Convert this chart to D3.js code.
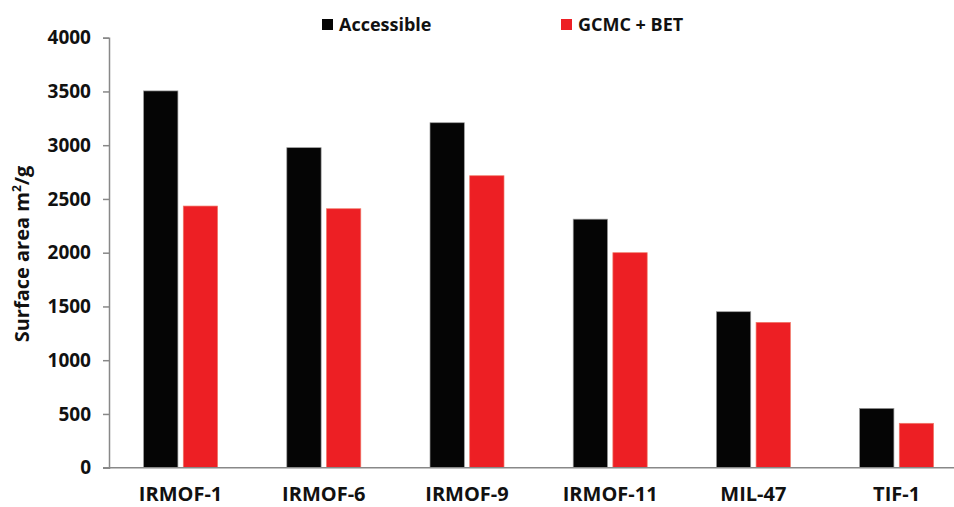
<!DOCTYPE html>
<html><head><meta charset="utf-8">
<script src="https://cdn.jsdelivr.net/npm/d3@7"></script>
<style>body{margin:0;background:#fff}svg{display:block}text{font-family:"Open Sans",Lato,sans-serif;font-weight:bold;fill:#111}</style>
</head><body>
<script>
const categories = ["IRMOF-1","IRMOF-6","IRMOF-9","IRMOF-11","MIL-47","TIF-1"];
const seriesNames = ["Accessible","GCMC + BET"];
const accessible = [3505, 2977, 3209, 2312, 1451, 552];
const gcmcBet = [2434, 2409, 2716, 2000, 1352, 413];
const yTicks = [0,500,1000,1500,2000,2500,3000,3500,4000];
const colors = ["#050505","#ed1f24"];

const W = 954, H = 507;
const svg = d3.select("body").append("svg").attr("width", W).attr("height", H);
const m = {left:109, top:37.7, bottom:467.7};
const x0 = d3.scaleBand().domain(categories).range([m.left, m.left + 6*143.2]).padding(0);
const x1 = d3.scaleBand().domain(seriesNames).range([0, 74]).paddingInner(0.135);
const off = (x0.bandwidth() - 74) / 2;
const y = d3.scaleLinear().domain([0, 4000]).range([m.bottom, m.top]);

const data = categories.map((c,i)=>({cat:c, vals:[accessible[i], gcmcBet[i]]}));
const g = svg.append("g");
g.selectAll("g.grp").data(data).join("g").attr("class","grp")
 .attr("transform", d=>`translate(${x0(d.cat)+off},0)`)
 .selectAll("rect").data(d=>d.vals.map((v,j)=>({v, s:seriesNames[j], j})))
 .join("rect")
 .attr("x", d=>x1(d.s)).attr("width", x1.bandwidth())
 .attr("y", d=>y(d.v)).attr("height", d=>y(0)-y(d.v))
 .attr("fill", d=>colors[d.j])
 .attr("stroke", d=>d.j===0?"#9a9a9a":"#f07a6a").attr("stroke-width",0.7);

// y axis
const ya = svg.append("g").attr("transform",`translate(${m.left},0)`)
 .call(d3.axisLeft(y).tickValues(yTicks).tickSize(6).tickPadding(12).tickFormat(d3.format("d")));
ya.select(".domain").attr("stroke","#888").attr("stroke-width",1.5);
ya.selectAll(".tick line").attr("stroke","#888").attr("stroke-width",1.5);
ya.selectAll(".tick text").attr("font-size",19).attr("font-family","'Open Sans'").attr("font-weight","bold").attr("fill","#111");

// x axis baseline
svg.append("line").attr("x1", m.left-6).attr("x2", W).attr("y1", y(0)).attr("y2", y(0))
 .attr("stroke","#888").attr("stroke-width",1.5);
svg.append("g").selectAll("text").data(categories).join("text")
 .attr("x", d=>x0(d)+x0.bandwidth()/2).attr("y", 501)
 .attr("text-anchor","middle").attr("font-size",20).text(d=>d);

// y title
const yt = svg.append("text").attr("transform","translate(29,254) rotate(-90)")
 .attr("text-anchor","middle").attr("font-size",20);
yt.append("tspan").text("Surface area m");
yt.append("tspan").attr("dy",-8).attr("font-size",12).text("2");
yt.append("tspan").attr("dy",8).text("/g");

// legend
const legX = [322, 561];
const lg = svg.append("g").selectAll("g").data(seriesNames).join("g")
 .attr("transform",(d,i)=>`translate(${legX[i]},19)`);
lg.append("rect").attr("width",11).attr("height",11).attr("fill",(d,i)=>colors[i]);
lg.append("text").attr("x",17).attr("y",12).attr("font-size",18).text(d=>d);
</script>
</body></html>
